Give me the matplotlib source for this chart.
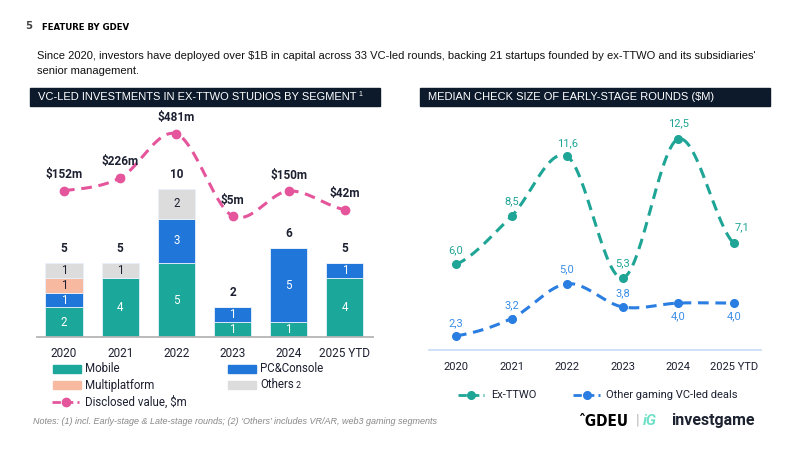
import numpy as np
import matplotlib
matplotlib.use("Agg")
import matplotlib.pyplot as plt
from matplotlib.patches import Rectangle
from matplotlib.lines import Line2D

# ---- data ----
years = ["2020", "2021", "2022", "2023", "2024", "2025 YTD"]
mobile = [2, 4, 5, 1, 1, 4]
pc_console = [1, 0, 3, 1, 5, 1]
multiplatform = [1, 0, 0, 0, 0, 0]
others = [1, 1, 2, 0, 0, 0]
disclosed_value = [152, 226, 481, 5, 150, 42]

ex_ttwo = [6.0, 8.5, 11.6, 5.3, 12.5, 7.1]
other_deals = [2.3, 3.2, 5.0, 3.8, 4.0, 4.0]

C_MOBILE = "#1ba89a"
C_PC = "#2176d9"
C_MULTI = "#f8b9a1"
C_OTHERS = "#dcdcdc"
C_PINK = "#e4559b"
C_TEAL = "#1ea596"
C_BLUE = "#2a7de1"
C_DARK = "#1c2030"
C_BAR = "#0c1a2b"

plt.rcParams["font.family"] = ["Roboto", "DejaVu Sans"]
ARIAL = ["Liberation Sans", "DejaVu Sans"]


def smooth(xs, ys, n=30):
    # catmull-rom curve through the points (display only)
    xs = np.asarray(xs, float)
    ys = np.asarray(ys, float)
    px = np.concatenate([[2 * xs[0] - xs[1]], xs, [2 * xs[-1] - xs[-2]]])
    py = np.concatenate([[ys[0]], ys, [ys[-1]]])
    outx, outy = [], []
    for i in range(1, len(px) - 2):
        t = np.linspace(0, 1, n, endpoint=False)
        for p, out in ((px, outx), (py, outy)):
            p0, p1, p2, p3 = p[i - 1], p[i], p[i + 1], p[i + 2]
            out.extend(0.5 * (2 * p1 + (-p0 + p2) * t
                              + (2 * p0 - 5 * p1 + 4 * p2 - p3) * t ** 2
                              + (-p0 + 3 * p1 - 3 * p2 + p3) * t ** 3))
    outx.append(xs[-1])
    outy.append(ys[-1])
    return np.array(outx), np.array(outy)


fig = plt.figure(figsize=(8, 4.5), dpi=100)

# overlay in pixel coordinates for header, title bars, legends, notes
ov = fig.add_axes([0, 0, 1, 1])
ov.set_xlim(0, 800)
ov.set_ylim(450, 0)
ov.axis("off")

ov.text(25, 26, "5", fontsize=8, fontweight="bold", color="#444444",
        family="DejaVu Sans", fontstretch="condensed", va="center")
ov.text(42, 27, "FEATURE BY GDEV", fontsize=6.8, fontweight="heavy", color="black",
        family="DejaVu Sans", fontstretch="condensed", va="center")
ov.text(37, 56, "Since 2020, investors have deployed over $1B in capital across 33 VC-led rounds, "
        "backing 21 startups founded by ex-TTWO and its subsidiaries'",
        fontsize=8.0, family=ARIAL, color="#111111", va="center")
ov.text(37, 71, "senior management.", fontsize=8.0, family=ARIAL, color="#111111", va="center")

ov.add_patch(Rectangle((30, 88), 350, 18, color=C_BAR))
ov.text(38, 97.5, "VC-LED INVESTMENTS IN EX-TTWO STUDIOS BY SEGMENT", color="white",
        fontsize=8.0, family=ARIAL, va="center")
ov.text(358, 94, "1", color="white", fontsize=5, family=ARIAL, va="center")
ov.add_patch(Rectangle((420, 88), 350, 18, color=C_BAR))
ov.text(428, 97.5, "MEDIAN CHECK SIZE OF EARLY-STAGE ROUNDS ($M)", color="white",
        fontsize=8.0, family=ARIAL, va="center")

# left legend
for (x, y, c, lab) in [(53, 369, C_MOBILE, "Mobile"), (228, 369, C_PC, "PC&Console"),
                       (53, 385, C_MULTI, "Multiplatform"), (228, 385, C_OTHERS, "Others")]:
    ov.add_patch(Rectangle((x, y - 4), 28, 8, color=c))
    t = ov.text(x + 32, y, lab, fontsize=8.3, va="center", color=C_DARK)
ov.annotate("2", xy=(1, 0.45), xycoords=t, xytext=(1.5, 0), textcoords="offset points",
            fontsize=6.5, va="center", ha="left", color=C_DARK)
ov.add_line(Line2D([52, 79], [402, 402], color=C_PINK, lw=2, ls=(0, (3, 1.5))))
ov.plot([66], [402], "o", color=C_PINK, ms=6)
ov.text(85, 402, "Disclosed value, $m", fontsize=8.3, va="center", color=C_DARK)

ov.text(33, 422, "Notes: (1) incl. Early-stage & Late-stage rounds; (2) \u2018Others\u2019 includes VR/AR, "
        "web3 gaming segments", fontsize=6.5, style="italic", color="#888888", va="center",
        family=ARIAL)

# right legend
ov.add_line(Line2D([458, 484], [395, 395], color=C_TEAL, lw=2, ls=(0, (3, 1.5))))
ov.plot([471], [395], "o", color=C_TEAL, ms=5.5)
ov.text(491, 395, "Ex-TTWO", fontsize=8, va="center", color=C_DARK)
ov.add_line(Line2D([573, 600], [395, 395], color=C_BLUE, lw=2, ls=(0, (3, 1.5))))
ov.plot([587], [395], "o", color=C_BLUE, ms=5.5)
ov.text(606, 395, "Other gaming VC-led deals", fontsize=8, va="center", color=C_DARK)

# logos
ov.text(578, 421, "\u02c6GDEU", fontsize=11, fontweight="bold", va="center", color="black",
        family="DejaVu Sans", fontstretch="condensed")
ov.text(636, 421, "|", fontsize=11, va="center", color="#bbbbbb")
ov.text(643, 421, "iG", fontsize=11, fontweight="bold", style="italic", va="center", color="#6fe0c8")
ov.text(671, 421, "investgame", fontsize=11.5, fontweight="bold", va="center", color="#1d2230")

# ---- left chart ----
ax = fig.add_axes([37 / 800, 113 / 450, 336 / 800, 227 / 450])
ax.patch.set_alpha(0)
x = np.arange(len(years))
w = 0.66
bottom = np.zeros(len(years))
segs = [(mobile, C_MOBILE, "white"), (pc_console, C_PC, "white"),
        (multiplatform, C_MULTI, C_DARK), (others, C_OTHERS, C_DARK)]
for vals, col, tcol in segs:
    vals = np.array(vals, float)
    ax.bar(x, vals, w, bottom=bottom, color=col, edgecolor="#e8f0fb", linewidth=0.6, zorder=2)
    for xi, v, b in zip(x, vals, bottom):
        if v > 0:
            ax.text(xi, b + v / 2, f"{int(v)}", ha="center", va="center", color=tcol, fontsize=8.3)
    bottom += vals
for xi, t in zip(x, bottom):
    ax.text(xi, t + 0.55, f"{int(t)}", ha="center", va="bottom", color=C_DARK,
            fontsize=8.5, fontweight="bold")
ax.set_xlim(-0.48, 5.5)
ax.set_ylim(0, 15.34)
ax.set_yticks([])
ax.set_xticks(x)
ax.set_xticklabels(years, fontsize=8.5, color=C_DARK)
ax.tick_params(axis="x", length=0, pad=7)
for s in ["top", "right", "left"]:
    ax.spines[s].set_visible(False)
ax.spines["bottom"].set_color("#b5b5b5")
ax.spines["bottom"].set_linewidth(1.3)

ax2 = ax.twinx()
ax2.set_ylim(-697, 620)
sx, sy = smooth(x, disclosed_value)
ax2.plot(sx, sy, color=C_PINK, lw=2.2, ls=(0, (3.5, 2.2)), zorder=3)
ax2.plot(x, disclosed_value, "o", color=C_PINK, ms=6, zorder=4)
for xi, v in zip(x, disclosed_value):
    ax2.text(xi, v + 55, f"${v}m", ha="center", va="bottom", color=C_DARK,
             fontsize=8.5, fontweight="bold")
ax2.axis("off")

# ---- right chart ----
bx = fig.add_axes([429 / 800, 100 / 450, 332 / 800, 240 / 450])
bx.patch.set_alpha(0)
bx.set_xlim(-0.485, 5.49)
bx.set_ylim(1.57, 14.0)
for vals, col in [(ex_ttwo, C_TEAL), (other_deals, C_BLUE)]:
    sx, sy = smooth(x, vals)
    bx.plot(sx, sy, color=col, lw=2.2, ls=(0, (3.5, 2.2)), zorder=3)
    bx.plot(x, vals, "o", color=col, ms=5.5, zorder=4)

teal_off = [(0, 0.75), (0, 0.75), (0, 0.7), (0, 0.75), (0, 0.8), (0.15, 0.85)]
for xi, v, (dx, dy) in zip(x, ex_ttwo, teal_off):
    bx.text(xi + dx, v + dy, f"{v:.1f}".replace(".", ","), ha="center", va="center",
            color=C_TEAL, fontsize=8)
blue_off = [0.65, 0.7, 0.75, 0.7, -0.7, -0.7]
for xi, v, dy in zip(x, other_deals, blue_off):
    bx.text(xi, v + dy, f"{v:.1f}".replace(".", ","), ha="center", va="center",
            color="#3a8ee6", fontsize=8)

bx.set_yticks([])
bx.set_xticks(x)
bx.set_xticklabels(years, fontsize=8, color=C_DARK)
bx.tick_params(axis="x", length=0, pad=9)
for s in ["top", "right", "left"]:
    bx.spines[s].set_visible(False)
bx.spines["bottom"].set_color("#c5dcf5")
bx.spines["bottom"].set_linewidth(1.2)

fig.savefig("out.png", dpi=100)
